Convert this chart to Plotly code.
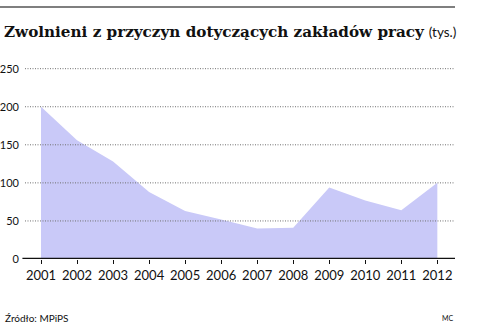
import plotly.graph_objects as go

years = [2001, 2002, 2003, 2004, 2005, 2006, 2007, 2008, 2009, 2010, 2011, 2012]
values = [200, 156, 128, 88, 63, 52, 40, 41, 94, 77, 64, 100]
y_ticks = [0, 50, 100, 150, 200, 250]
title_main = "Zwolnieni z przyczyn dotyczących zakładów pracy"
title_unit = "(tys.)"
source = "Źródło: MPiPS"
author = "MC"

fig = go.Figure()
fig.add_trace(go.Scatter(
    x=years, y=values, mode="lines", fill="tozeroy",
    line=dict(width=0, color="#c9c9f8"), fillcolor="#c9c9f8",
    hoverinfo="skip", showlegend=False,
))

# dotted gridlines above the area
for t in y_ticks[1:]:
    fig.add_shape(type="line", xref="paper", yref="y", x0=0, x1=1, y0=t, y1=t,
                  line=dict(color="#707070", width=1, dash="1px,1.5px"), layer="above")

# baseline axis
fig.add_shape(type="line", xref="paper", yref="y", x0=-0.006, x1=1, y0=0, y1=0,
              line=dict(color="#111111", width=2.5), layer="above")

fig.update_layout(
    width=478, height=330,
    margin=dict(l=25, r=23, t=60, b=71, autoexpand=False),
    paper_bgcolor="white", plot_bgcolor="white",
    font=dict(family="Lato, Open Sans, sans-serif", color="#111111"),
    xaxis=dict(
        range=[2000.556, 2012.49], tickmode="array", tickvals=years,
        ticktext=[str(y) for y in years], showgrid=False, zeroline=False,
        ticks="outside", ticklen=4, tickwidth=1.2, tickcolor="#111111",
        tickfont=dict(size=13, family="Lato, sans-serif", color="#111111"),
        showline=False, automargin=False,
    ),
    yaxis=dict(
        range=[0, 261.4], tickmode="array", tickvals=y_ticks,
        ticktext=[str(v) for v in y_ticks], showgrid=False, zeroline=False,
        ticks="", ticklabelstandoff=5, automargin=False,
        tickfont=dict(size=11, family="Lato, sans-serif", color="#111111"),
    ),
)

# top rule
fig.add_shape(type="line", xref="paper", yref="paper", x0=-25/430, x1=1, y0=1.266, y1=1.266,
              line=dict(color="#555555", width=1.5))

fig.add_annotation(
    xref="paper", yref="paper", x=-23/430, y=1.14, xanchor="left", yanchor="middle",
    showarrow=False,
    text=f"<b>{title_main}</b> <span style='font-size:13.5px;font-family:Lato'>{title_unit}</span>",
    font=dict(family="DejaVu Serif, serif", size=15.2, color="#111111"),
)
fig.add_annotation(
    xref="paper", yref="paper", x=-22/430, y=-0.296, xanchor="left", yanchor="middle",
    showarrow=False, text=source, font=dict(family="Lato, sans-serif", size=10, color="#111111"),
)
fig.add_annotation(
    xref="paper", yref="paper", x=1, y=-0.296, xanchor="right", yanchor="middle",
    showarrow=False, text=author, font=dict(family="Lato, sans-serif", size=7, color="#111111"),
)

fig.write_html("out.html", config={"displayModeBar": False})
